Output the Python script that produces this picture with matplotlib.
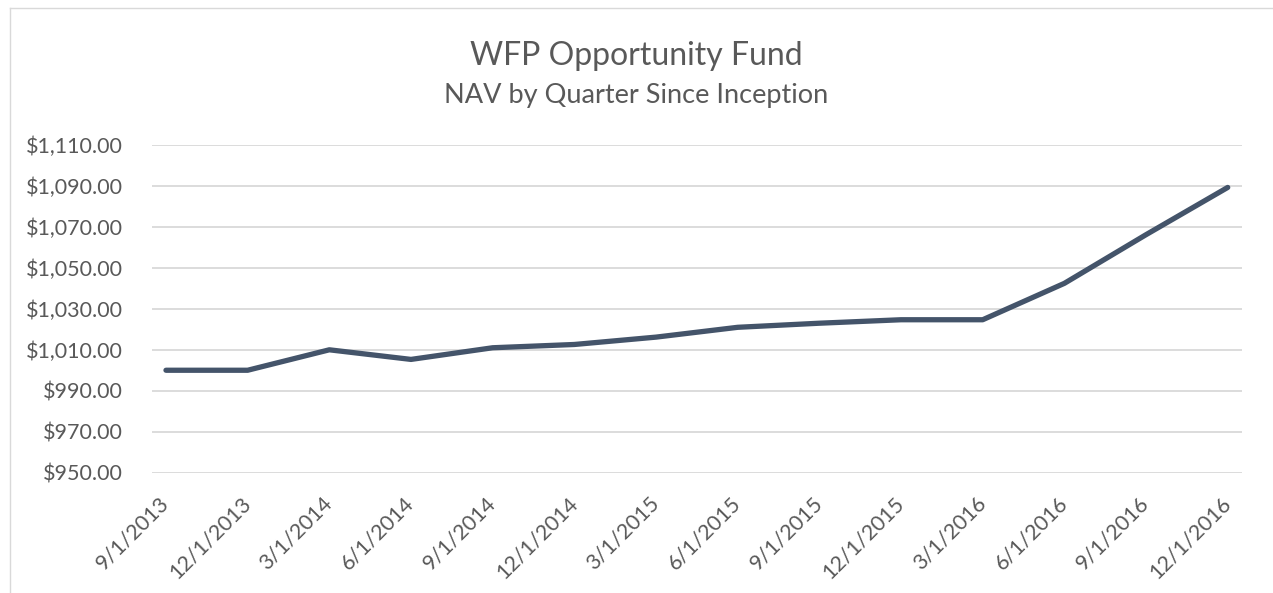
import matplotlib
matplotlib.use("Agg")
import matplotlib.pyplot as plt
from matplotlib.ticker import FuncFormatter
import matplotlib.lines as mlines

dates = ["9/1/2013", "12/1/2013", "3/1/2014", "6/1/2014", "9/1/2014", "12/1/2014",
         "3/1/2015", "6/1/2015", "9/1/2015", "12/1/2015", "3/1/2016", "6/1/2016",
         "9/1/2016", "12/1/2016"]
nav = [1000.0, 1000.0, 1010.0, 1005.3, 1011.0, 1012.6, 1016.2, 1021.0, 1023.0,
       1024.7, 1024.7, 1042.5, 1066.3, 1089.4]
y_ticks = [950, 970, 990, 1010, 1030, 1050, 1070, 1090, 1110]

title = "WFP Opportunity Fund"
subtitle = "NAV by Quarter Since Inception"

plt.rcParams['font.family'] = ['Lato', 'DejaVu Sans']
TXT = '#595959'

W, H = 1273, 593
fig = plt.figure(figsize=(W/100, H/100), dpi=100)
ax = fig.add_axes([152.0/W, 1 - 472.5/H, (1241.7-152.0)/W, (472.5-145.3)/H])

x = list(range(len(dates)))
ax.plot(x, nav, color='#44546A', lw=3.8, solid_capstyle='round', solid_joinstyle='round', zorder=3)

ax.set_ylim(y_ticks[0], y_ticks[-1])
ax.set_yticks(y_ticks)
ax.yaxis.set_major_formatter(FuncFormatter(lambda v, p: "${:,.2f}".format(v)))
pad = 14.0/81.8
ax.set_xlim(-pad, len(dates) - 1 + pad)
ax.set_xticks(x)
ax.set_xticklabels(dates, rotation=45, ha='right', va='center', rotation_mode='anchor')
ax.grid(axis='y', color='#D9D9D9', lw=1.3)
ax.set_axisbelow(True)
for s in ax.spines.values():
    s.set_visible(False)
ax.tick_params(axis='y', length=0, colors=TXT, labelsize=15.5, pad=21)
ax.tick_params(axis='x', length=0, colors=TXT, labelsize=15.5, pad=20)
for lbl in ax.get_xticklabels():
    lbl.set_color(TXT)

fig.text(636.5/W, 1 - 65/H, title, ha='center', va='baseline', fontsize=23, color=TXT)
fig.text(636.5/W, 1 - 103/H, subtitle, ha='center', va='baseline', fontsize=19.5, color=TXT)

# chart border (left and top visible)
fig.add_artist(mlines.Line2D([10/W, 10/W], [0, 1 - 7.5/H], transform=fig.transFigure, color='#D9D9D9', lw=1))
fig.add_artist(mlines.Line2D([10/W, 1], [1 - 7.5/H, 1 - 7.5/H], transform=fig.transFigure, color='#D9D9D9', lw=1))

fig.savefig("out.png", dpi=100)
